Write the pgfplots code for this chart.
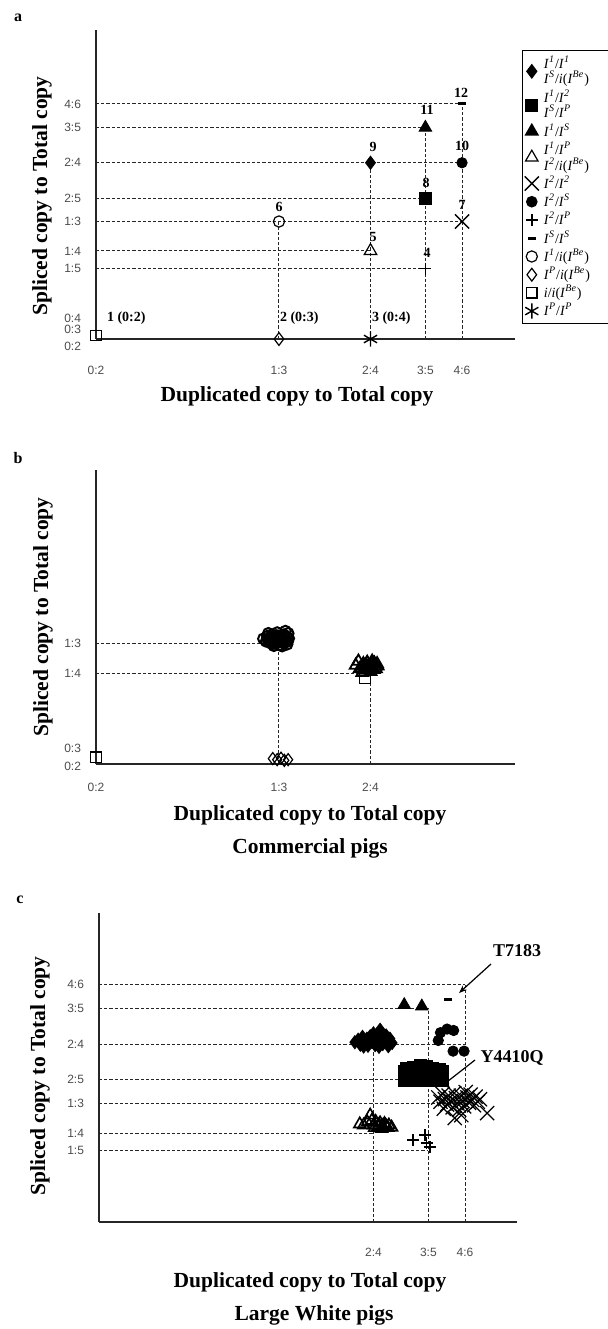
\documentclass[border=0pt]{standalone}
\usepackage{pgfplots}
\pgfplotsset{compat=1.18}
\usepackage{fontspec}
\setmainfont{Liberation Serif}
\setsansfont{Liberation Sans}
\usetikzlibrary{plotmarks,arrows.meta}
\pgfplotsset{
 base/.style={scale only axis, axis lines=left, axis line style={-, line width=0.8pt, black!85},
   xmin=0, ymin=0, clip=false, tick style={draw=none}, major tick length=0pt,
   tick label style={font=\sffamily\fontsize{6}{7}\selectfont, text=black!70},
   yticklabel style={anchor=east, xshift=-4pt},
   xticklabel style={anchor=center}},
 dl/.style={black!85, line width=0.5pt, dash pattern=on 1.6pt off 1pt, forget plot},
 om/.style={only marks, black, solid},
}
\tikzset{tl/.style={font=\sffamily\fontsize{6}{7}\selectfont, text=black!70, anchor=east, xshift=-4pt},
 pl/.style={font=\bfseries\fontsize{7}{8}\selectfont},
 al/.style={font=\bfseries\fontsize{10.75}{12}\selectfont}}
\newcommand\St{\rule[-1.9pt]{0pt}{7pt}}
\newcommand\Sd{\rule[-1.5pt]{0pt}{6pt}}
\newcommand\Ix[1]{\textit{I}\textsuperscript{\textit{#1}}}
\newcommand\iB{\textit{i}(\Ix{Be})}
\newcommand\One[1]{\makebox[48pt][l]{\St #1}}
\newcommand\Two[2]{\makebox[48pt][l]{\vbox{\offinterlineskip\hbox{\Sd #1}\hbox{\Sd #2}}}}
\begin{document}
\begin{tikzpicture}[x=0.5pt,y=-0.5pt]
\useasboundingbox (0,0) rectangle (608,1329);
% ---------------- panel a ----------------
\begin{axis}[base, at={(48pt,-169.5pt)}, anchor=south west, width=209.5pt, height=154.5pt,
  xmax=0.7632, ymax=0.8766,
  xtick={0,0.3333,0.5,0.6,0.6667}, xticklabels={0:2,1:3,2:4,3:5,4:6},
  xticklabel style={yshift=-15.5pt},
  ytick={0.2,0.25,0.3333,0.4,0.5,0.6,0.6667}, yticklabels={1:5,1:4,1:3,2:5,2:4,3:5,4:6},
  legend cell align=left,
  legend style={at={(1.017,0.935)}, anchor=north west, draw=black, line width=0.6pt,
    inner xsep=1pt, inner ysep=2pt, font=\fontsize{7}{8}\selectfont, row sep=0.3pt,
    nodes={inner sep=0.5pt}, /tikz/every odd column/.append style={column sep=2pt}},
]
\addplot[dl] coordinates {(0,0.6667) (0.6667,0.6667)};
\addplot[dl] coordinates {(0,0.6) (0.6,0.6)};
\addplot[dl] coordinates {(0,0.5) (0.6667,0.5)};
\addplot[dl] coordinates {(0,0.4) (0.6,0.4)};
\addplot[dl] coordinates {(0,0.3333) (0.6667,0.3333)};
\addplot[dl] coordinates {(0,0.25) (0.5,0.25)};
\addplot[dl] coordinates {(0,0.2) (0.6,0.2)};
\addplot[dl] coordinates {(0.3333,0) (0.3333,0.3333)};
\addplot[dl] coordinates {(0.5,0) (0.5,0.5)};
\addplot[dl] coordinates {(0.6,0) (0.6,0.6)};
\addplot[dl] coordinates {(0.6667,0) (0.6667,0.6667)};
\addplot[om, mark=diamond*, mark size=3.3pt] coordinates {(0.5,0.5)};
\addlegendentry{\Two{\Ix{1}/\Ix{1}}{\Ix{S}/\iB}}
\addplot[om, mark=square*, mark size=3pt] coordinates {(0.6,0.4)};
\addlegendentry{\Two{\Ix{1}/\Ix{2}}{\Ix{S}/\Ix{P}}}
\addplot[om, mark=triangle*, mark size=3.6pt] coordinates {(0.6,0.6)};
\addlegendentry{\One{\Ix{1}/\Ix{S}}}
\addplot[om, mark=triangle, mark size=3.6pt, line width=0.6pt] coordinates {(0.5,0.25)};
\addlegendentry{\Two{\Ix{1}/\Ix{P}}{\Ix{2}/\iB}}
\addplot[om, mark=x, mark size=5pt, line width=0.7pt] coordinates {(0.6667,0.3333)};
\addlegendentry{\One{\Ix{2}/\Ix{2}}}
\addplot[om, mark=*, mark size=2.6pt] coordinates {(0.6667,0.5)};
\addlegendentry{\One{\Ix{2}/\Ix{S}}}
\addplot[om, mark=+, mark size=3pt, line width=0.7pt] coordinates {(0.6,0.2)};
\addlegendentry{\One{\Ix{2}/\Ix{P}}}
\addplot[om, mark=-, mark size=2pt, line width=1.5pt] coordinates {(0.6667,0.6667)};
\addlegendentry{\One{\Ix{S}/\Ix{S}}}
\addplot[om, mark=o, mark size=2.8pt, line width=0.6pt] coordinates {(0.3333,0.3333)};
\addlegendentry{\One{\Ix{1}/\iB}}
\addplot[om, mark=diamond, mark size=3.2pt, line width=0.6pt] coordinates {(0.3333,0)};
\addlegendentry{\One{\Ix{P}/\iB}}
\addplot[om, mark=square, mark size=2.6pt, line width=0.6pt] coordinates {(0,0.01)};
\addlegendentry{\One{\textit{i}/\iB}}
\addplot[om, mark=asterisk, mark size=3.8pt, line width=0.7pt] coordinates {(0.5,0)};
\addlegendentry{\One{\Ix{P}/\Ix{P}}}
\node[tl] at (axis cs:0,0.0596) {0:4};
\node[tl] at (axis cs:0,0.0284) {0:3};
\node[tl] at (axis cs:0,-0.0199) {0:2};
\end{axis}
% ---------------- panel b ----------------
\begin{axis}[base, at={(48pt,-382pt)}, anchor=south west, width=209.5pt, height=147pt,
  xmax=0.7632, ymax=0.81,
  xtick={0,0.3333,0.5}, xticklabels={0:2,1:3,2:4},
  xticklabel style={yshift=-11.5pt},
  ytick={0.25,0.3333}, yticklabels={1:4,1:3}]
\addplot[dl] coordinates {(0,0.3333) (0.3333,0.3333)};
\addplot[dl] coordinates {(0,0.25) (0.5,0.25)};
\addplot[dl] coordinates {(0.3333,0) (0.3333,0.3333)};
\addplot[dl] coordinates {(0.5,0) (0.5,0.25)};
\addplot[om, mark=o, mark size=2.7pt, line width=1pt] coordinates {
(0.305,0.345)(0.310,0.338)(0.312,0.352)(0.316,0.344)(0.318,0.335)(0.320,0.356)(0.322,0.348)
(0.325,0.340)(0.327,0.332)(0.328,0.354)(0.331,0.346)(0.333,0.338)(0.335,0.328)(0.336,0.352)
(0.338,0.344)(0.340,0.334)(0.342,0.356)(0.344,0.348)(0.346,0.340)(0.348,0.330)(0.350,0.360)
(0.351,0.346)(0.330,0.362)(0.314,0.360)(0.345,0.366)(0.324,0.326)(0.339,0.325)
(0.313,0.343)(0.319,0.349)(0.323,0.341)(0.329,0.347)(0.332,0.353)(0.334,0.343)(0.337,0.349)
(0.341,0.341)(0.343,0.335)(0.347,0.351)(0.326,0.335)(0.321,0.331)(0.349,0.338)(0.317,0.339)};
\addplot[om, mark=diamond, mark size=3pt, line width=0.6pt] coordinates {
(0.322,0.015)(0.330,0.012)(0.337,0.016)(0.343,0.010)(0.350,0.012)};
\addplot[om, mark=square, mark size=2.6pt, line width=0.6pt] coordinates {(0,0.019)(0.49,0.237)};
\addplot[om, mark=triangle, mark size=3.4pt, line width=0.9pt] coordinates {
(0.473,0.272)(0.478,0.283)(0.483,0.265)(0.487,0.276)(0.491,0.268)(0.494,0.280)(0.498,0.262)
(0.501,0.273)(0.504,0.266)(0.507,0.278)(0.510,0.262)(0.513,0.270)(0.489,0.258)(0.500,0.255)(0.485,0.252)
(0.480,0.262)(0.486,0.270)(0.492,0.274)(0.496,0.268)(0.502,0.277)(0.506,0.260)(0.509,0.270)
(0.495,0.260)(0.503,0.283)(0.512,0.276)};
\node[tl] at (axis cs:0,0.044) {0:3};
\node[tl] at (axis cs:0,-0.0055) {0:2};
\end{axis}
% ---------------- panel c ----------------
\begin{axis}[base, at={(49.5pt,-611pt)}, anchor=south west, width=209pt, height=154.5pt,
  xmax=0.7614, ymax=0.868,
  xtick={0.5,0.6,0.6667}, xticklabels={2:4,3:5,4:6},
  xticklabel style={yshift=-15pt},
  ytick={0.2,0.25,0.3333,0.4,0.5,0.6,0.6667}, yticklabels={1:5,1:4,1:3,2:5,2:4,3:5,4:6}]
\addplot[dl] coordinates {(0,0.6667) (0.6667,0.6667)};
\addplot[dl] coordinates {(0,0.6) (0.6,0.6)};
\addplot[dl] coordinates {(0,0.5) (0.6667,0.5)};
\addplot[dl] coordinates {(0,0.4) (0.6,0.4)};
\addplot[dl] coordinates {(0,0.3333) (0.6667,0.3333)};
\addplot[dl] coordinates {(0,0.25) (0.5,0.25)};
\addplot[dl] coordinates {(0,0.2) (0.6,0.2)};
\addplot[dl] coordinates {(0.5,0) (0.5,0.5)};
\addplot[dl] coordinates {(0.6,0) (0.6,0.6)};
\addplot[dl] coordinates {(0.6667,0) (0.6667,0.6667)};
\addplot[om, mark=diamond*, mark size=3.3pt] coordinates {
(0.466,0.505)(0.472,0.512)(0.476,0.498)(0.480,0.520)(0.484,0.505)(0.488,0.515)(0.490,0.495)
(0.494,0.522)(0.497,0.506)(0.500,0.514)(0.503,0.497)(0.506,0.526)(0.509,0.508)(0.512,0.540)
(0.514,0.518)(0.517,0.500)(0.520,0.512)(0.523,0.524)(0.526,0.505)(0.530,0.515)(0.534,0.503)
(0.482,0.493)(0.510,0.492)(0.527,0.494)(0.500,0.530)};
\addplot[om, mark=triangle*, mark size=3.6pt] coordinates {(0.556,0.610)(0.588,0.606)};
\addplot[om, mark=-, mark size=2pt, line width=1.5pt] coordinates {(0.636,0.626)};
\addplot[om, mark=*, mark size=2.6pt] coordinates {
(0.622,0.532)(0.634,0.542)(0.646,0.538)(0.618,0.510)(0.645,0.480)(0.665,0.480)};
\addplot[om, mark=square*, mark size=3pt] coordinates {
(0.556,0.398)(0.568,0.398)(0.580,0.398)(0.592,0.398)(0.604,0.398)(0.616,0.398)(0.626,0.398)
(0.556,0.410)(0.568,0.410)(0.580,0.410)(0.592,0.410)(0.604,0.410)(0.616,0.410)(0.626,0.410)
(0.556,0.422)(0.568,0.422)(0.580,0.422)(0.592,0.422)(0.604,0.422)(0.616,0.422)(0.626,0.422)
(0.560,0.432)(0.572,0.434)(0.585,0.440)(0.596,0.436)(0.608,0.432)(0.620,0.430)};
\addplot[om, mark=x, mark size=5pt, line width=0.6pt] coordinates {
(0.618,0.350)(0.622,0.338)(0.626,0.360)(0.630,0.345)(0.634,0.330)(0.637,0.355)(0.641,0.340)
(0.644,0.322)(0.647,0.362)(0.650,0.348)(0.653,0.333)(0.656,0.315)(0.659,0.355)(0.662,0.340)
(0.665,0.325)(0.668,0.365)(0.671,0.350)(0.674,0.335)(0.677,0.358)(0.680,0.343)(0.683,0.328)
(0.686,0.352)(0.690,0.338)(0.694,0.345)(0.707,0.306)(0.648,0.292)(0.628,0.318)(0.660,0.300)};
\addplot[om, mark=triangle, mark size=3.4pt, line width=0.8pt] coordinates {
(0.475,0.275)(0.482,0.272)(0.489,0.280)(0.494,0.300)(0.497,0.285)(0.500,0.272)(0.504,0.282)
(0.508,0.268)(0.512,0.278)(0.516,0.270)(0.520,0.276)(0.524,0.268)(0.528,0.272)(0.533,0.266)
(0.502,0.265)(0.515,0.262)(0.510,0.273)(0.518,0.266)(0.522,0.272)(0.526,0.265)};
\addplot[om, mark=+, mark size=3pt, line width=0.7pt] coordinates {
(0.572,0.230)(0.594,0.244)(0.597,0.222)(0.603,0.211)};
\end{axis}
% ---------------- texts ----------------
\node[font=\bfseries\fontsize{8}{9}\selectfont] at (18,18) {a};
\node[font=\bfseries\fontsize{8}{9}\selectfont] at (18,458) {b};
\node[font=\bfseries\fontsize{8}{9}\selectfont] at (20,900) {c};
\node[al] at (297,396) {Duplicated copy to Total copy};
\node[al, rotate=90] at (42,196) {Spliced copy to Total copy};
\node[al] at (310,815) {Duplicated copy to Total copy};
\node[al] at (310,848) {Commercial pigs};
\node[al, rotate=90] at (43,617) {Spliced copy to Total copy};
\node[al] at (310,1282) {Duplicated copy to Total copy};
\node[al] at (314,1315) {Large White pigs};
\node[al, rotate=90] at (40,1076) {Spliced copy to Total copy};
\node[pl] at (461,93) {12};
\node[pl] at (427,110) {11};
\node[pl] at (373,147) {9};
\node[pl] at (462,146) {10};
\node[pl] at (426,183) {8};
\node[pl] at (462,205) {7};
\node[pl] at (279,207) {6};
\node[pl] at (373,237) {5};
\node[pl] at (427,253) {4};
\node[pl, anchor=west] at (100,318) {1 (0:2)};
\node[pl, anchor=west] at (273,318) {2 (0:3)};
\node[pl, anchor=west] at (365,318) {3 (0:4)};
\node[font=\bfseries\fontsize{9}{10}\selectfont] at (517,951) {T7183};
\draw[-{Stealth[length=4pt]}, line width=0.6pt] (491,964) -- (459,993);
\node[font=\bfseries\fontsize{9}{10}\selectfont] at (512,1058) {Y4410Q};
\draw[-{Stealth[length=3pt]}, line width=0.6pt] (475,1060) -- (443,1085);
\end{tikzpicture}
\end{document}
